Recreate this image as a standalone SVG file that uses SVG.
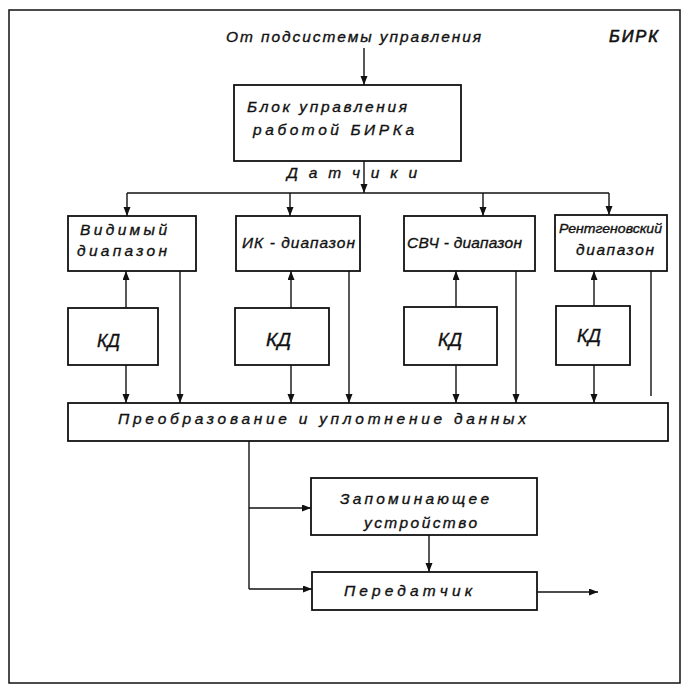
<svg xmlns="http://www.w3.org/2000/svg" width="682" height="685" viewBox="0 0 682 685">
<defs>
<marker id="ah" markerUnits="userSpaceOnUse" markerWidth="10" markerHeight="8" refX="9" refY="3.5" orient="auto">
<path d="M0,0 L9,3.5 L0,7 z" fill="#111"/>
</marker>
<style>
.box{fill:#fff;stroke:#111;stroke-width:1.8}
.ln{fill:none;stroke:#111;stroke-width:1.4}
.ar{fill:none;stroke:#111;stroke-width:1.4;marker-end:url(#ah)}
text{font-family:"Liberation Sans","DejaVu Sans",sans-serif;font-style:italic;fill:#111;stroke:#111;stroke-width:0.35;font-size:15.5px}
.kd{font-size:18px}
.sm{font-size:13px}
</style>
</defs>
<rect width="682" height="685" fill="#fff"/>
<rect x="9" y="10" width="671" height="673" fill="none" stroke="#111" stroke-width="1.5"/>

<g id="title">
<text x="226" y="42" textLength="255" lengthAdjust="spacing">От подсистемы управления</text>
<text x="609" y="42" textLength="49" lengthAdjust="spacing" style="font-size:16.5px;stroke-width:0.6">БИРК</text>
<text x="287" y="178" textLength="130" lengthAdjust="spacing">Датчики</text>
</g>

<g id="control">
<rect class="box" x="234" y="85" width="227" height="76"/>
<text x="247" y="112" textLength="160" lengthAdjust="spacing">Блок управления</text>
<text x="253" y="135" textLength="161" lengthAdjust="spacing">работой БИРКа</text>
</g>

<g id="visible">
<rect class="box" x="68" y="216" width="128" height="55"/>
<text x="80" y="235" textLength="87" lengthAdjust="spacing">Видимый</text>
<text x="77" y="256" textLength="90" lengthAdjust="spacing">диапазон</text>
</g>
<g id="ir">
<rect class="box" x="236" y="216" width="124" height="55"/>
<text x="242" y="248" textLength="113" lengthAdjust="spacing">ИК - диапазон</text>
</g>
<g id="uhf">
<rect class="box" x="404" y="216" width="131" height="55"/>
<text x="407" y="248" textLength="115" lengthAdjust="spacing">СВЧ - диапазон</text>
</g>
<g id="xray">
<rect class="box" x="555" y="215" width="112" height="56"/>
<text class="sm" x="559" y="233" textLength="103" lengthAdjust="spacingAndGlyphs">Рентгеновский</text>
<text x="576" y="255" textLength="78" lengthAdjust="spacing">диапазон</text>
</g>

<g id="kd1">
<rect class="box" x="68" y="308" width="90" height="57"/>
<text class="kd" x="97" y="347" textLength="23" lengthAdjust="spacingAndGlyphs">КД</text>
</g>
<g id="kd2">
<rect class="box" x="235" y="308" width="94" height="57"/>
<text class="kd" x="266" y="346" textLength="25" lengthAdjust="spacingAndGlyphs">КД</text>
</g>
<g id="kd3">
<rect class="box" x="404" y="307" width="93" height="58"/>
<text class="kd" x="438" y="346" textLength="24" lengthAdjust="spacingAndGlyphs">КД</text>
</g>
<g id="kd4">
<rect class="box" x="556" y="306" width="74" height="59"/>
<text class="kd" x="577" y="342" textLength="24" lengthAdjust="spacingAndGlyphs">КД</text>
</g>

<g id="convert">
<rect class="box" x="68" y="403" width="600" height="38"/>
<text x="118" y="424" textLength="408" lengthAdjust="spacing">Преобразование и уплотнение данных</text>
</g>

<g id="storage">
<rect class="box" x="311" y="478" width="226" height="57"/>
<text x="340" y="504" textLength="149" lengthAdjust="spacing">Запоминающее</text>
<text x="364" y="528" textLength="113" lengthAdjust="spacing">устройство</text>
</g>

<g id="transmitter">
<rect class="box" x="312" y="572" width="225" height="38"/>
<text x="344" y="596" textLength="128" lengthAdjust="spacing">Передатчик</text>
</g>

<g id="connectors">
<line class="ar" x1="364" y1="48" x2="364" y2="85"/>
<line class="ar" x1="364" y1="161" x2="364" y2="193"/>
<line class="ln" x1="127" y1="193" x2="609" y2="193"/>
<line class="ar" x1="127" y1="193" x2="127" y2="216"/>
<line class="ar" x1="290" y1="193" x2="290" y2="216"/>
<line class="ar" x1="483" y1="193" x2="483" y2="216"/>
<line class="ar" x1="609" y1="193" x2="609" y2="215"/>

<line class="ar" x1="126" y1="308" x2="126" y2="271"/>
<line class="ar" x1="291" y1="308" x2="291" y2="271"/>
<line class="ar" x1="456" y1="307" x2="456" y2="271"/>
<line class="ar" x1="594" y1="306" x2="594" y2="271"/>

<line class="ar" x1="126" y1="365" x2="126" y2="403"/>
<line class="ar" x1="291" y1="365" x2="291" y2="403"/>
<line class="ar" x1="456" y1="365" x2="456" y2="403"/>
<line class="ar" x1="594" y1="365" x2="594" y2="403"/>

<line class="ar" x1="180" y1="271" x2="180" y2="403"/>
<line class="ar" x1="349" y1="271" x2="349" y2="403"/>
<line class="ar" x1="516" y1="271" x2="516" y2="403"/>
<line class="ln" x1="651" y1="271" x2="651" y2="396"/>

<polyline class="ln" points="249,441 249,589"/>
<line class="ar" x1="249" y1="508" x2="311" y2="508"/>
<line class="ar" x1="249" y1="589" x2="312" y2="589"/>
<line class="ar" x1="429" y1="535" x2="429" y2="572"/>
<line class="ar" x1="537" y1="592" x2="598" y2="592"/>
</g>
</svg>
